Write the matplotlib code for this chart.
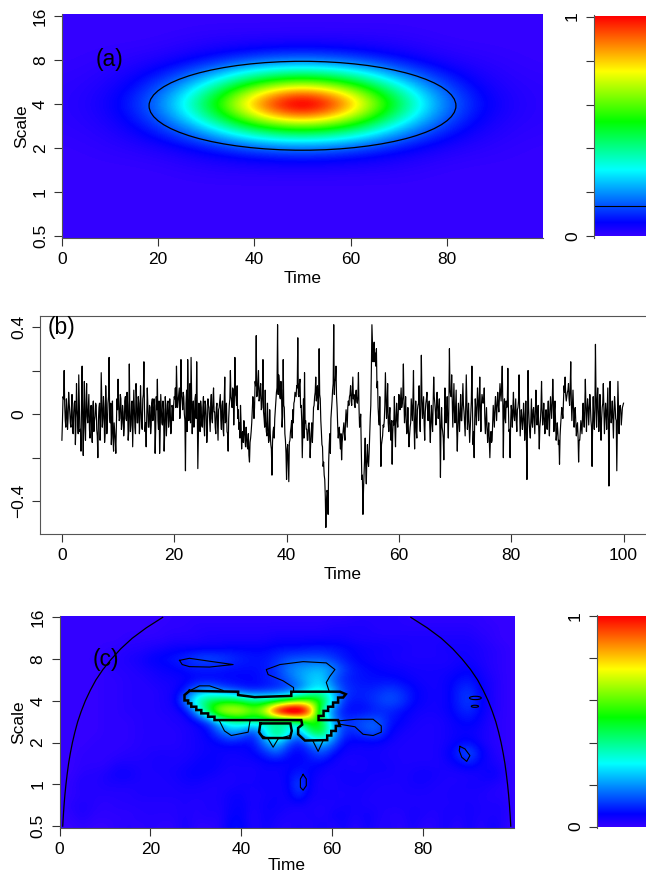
# wavelet power panels (a), (c) and the time series (b)

import numpy as np
import matplotlib.pyplot as plt
from matplotlib.colors import LinearSegmentedColormap
from matplotlib.patches import Ellipse

plt.rcParams['font.family'] = ['Liberation Sans', 'DejaVu Sans']

W, H = 646, 875

# scale axis is in octaves above 0.5
scale_labels = ['0.5', '1', '2', '4', '8', '16']
scale_ticks = [0, 1, 2, 3, 4, 5]

# panel (a): power in percent (clipped at 100), top row is octave 5, step 0.5 octave, time step 10
power_a = [
    [0, 0, 0, 0, 0, 0, 0, 0, 0, 0, 0],
    [0, 0, 0, 1, 1, 1, 1, 1, 0, 0, 0],
    [0, 1, 2, 6, 11, 14, 11, 6, 2, 1, 0],
    [1, 2, 10, 27, 52, 62, 52, 27, 10, 2, 1],
    [1, 4, 17, 50, 95, 130, 95, 50, 17, 4, 1],
    [1, 2, 10, 27, 52, 62, 52, 27, 10, 2, 1],
    [0, 1, 2, 6, 11, 14, 11, 6, 2, 1, 0],
    [0, 0, 0, 1, 1, 1, 1, 1, 0, 0, 0],
    [0, 0, 0, 0, 0, 0, 0, 0, 0, 0, 0],
    [0, 0, 0, 0, 0, 0, 0, 0, 0, 0, 0],
    [0, 0, 0, 0, 0, 0, 0, 0, 0, 0, 0],
]
ellipse_a = (50, 2.96, 63.8, 2.02)
level_a = 0.14

# panel (b): series in hundredths, one row per 5 time units, step 0.2
series_b = [
    -12, 8, 20, -3, 7, -7, 10, 1, -6, 9, -9, 5, -14, 14, -2, 18, -8, -17, 22, -19, 15, -12, 14, -4, 9,
    -11, 4, -13, 6, -3, 5, -7, -20, 3, -12, 19, -6, 8, -13, 13, -9, 5, 26, -4, -14, 6, -17, -8, -18, 7,
    16, -3, 9, -7, 4, -10, 6, -2, 10, -12, 23, -8, 5, -15, 11, -6, 14, -4, 8, -9, 13, -5, 7, 24, -8,
    -15, 12, -6, 4, -9, 5, -3, 7, -18, 8, 16, -7, -18, 9, -4, 6, -17, 8, -10, 5, -6, 7, -9, 4, -3,
    8, 12, 22, 3, 9, -2, 25, 6, 10, 0, -26, 11, 25, -3, 14, 26, -9, 6, -4, 9, 24, -25, 5, -8, 3,
    -6, 8, -10, 4, -13, 7, 3, -8, 9, -4, 12, 1, -9, 5, -12, 3, 9, -7, 6, -10, 17, -3, -8, -17, 4,
    20, 6, 12, -5, 26, 8, 13, 2, -4, 4, -16, -8, -3, -12, -6, -15, -9, -22, -11, -4, 8, -2, 15, 36, 9,
    20, 7, 14, 3, 25, -2, 11, -8, 5, -13, 2, -14, -28, -8, -11, 2, 10, 41, 18, 8, 15, -6, 25, 3, -12,
    -30, -14, -31, -12, -6, -11, -4, 6, 9, 13, 35, 8, 16, 4, -20, 7, 19, -3, -7, -12, -4, -20, -8, -13, 3,
    8, 17, 10, 2, 30, 7, -8, -15, -22, -30, -52, -35, -46, -14, -18, 2, 11, 41, 15, 22, 3, -11, -6, -16, -21,
    -10, -4, -12, 2, -6, 6, 8, 13, 4, 17, 9, 3, 11, 5, 19, -6, 0, -30, -46, -28, -11, -32, -14, -24, -10,
    4, 41, 24, 33, 28, 30, 15, -2, 8, -24, -12, -5, -3, 19, -2, 14, -8, 3, -12, -23, -3, 8, -15, 5, -6,
    9, 2, 12, 5, 23, -4, 8, -9, 3, -15, -6, 7, -3, 20, -16, 6, -11, 4, 13, -8, 27, -2, 8, -12, 5,
    10, -3, 6, -13, 4, -8, 17, 5, -5, 10, -2, 7, -29, 3, -8, -21, 12, -4, 8, -11, 30, 9, 18, -6, 14,
    -4, 11, -17, 5, -8, 9, -3, 14, 1, -10, 18, -7, 5, -13, -2, 22, -14, -20, 7, -5, 12, -3, 17, -8, 9,
    5, 12, -9, 3, -13, -4, -20, -8, -12, 4, -6, 8, -3, 10, 1, 14, 6, 22, -20, 7, -4, 3, 21, -8, -20,
    4, -6, 10, -3, 7, -8, 3, 18, -10, 2, -7, 5, -12, 6, -30, 20, -4, -11, 7, -6, 3, -9, 11, -5, 4,
    -16, -3, 15, -5, 5, -9, 2, -7, 6, -10, 8, -2, 16, -8, 6, -12, -4, -14, -23, -5, 3, -2, 13, 17, 6,
    10, 14, 4, 24, -3, 11, -6, 3, -10, -4, -22, -12, -3, -9, 5, -6, 16, -8, 7, -5, 9, -3, -24, 8, -7,
    32, -6, 12, -8, 9, -12, 3, 14, -9, 5, -7, 12, -33, 15, -4, 6, -11, 8, -2, -26, 15, -9, 4, -5, 3,
    5,
]

# same series at the in-between times (t + 0.1)
series_b_mid = [
    -3, 7, 4, -6, 2, -2, 5, -4, 3, -8, 1, 6, -5, 2, -9, 4, -7, 6, -3, 2, -6, 5, -1, 3, -7,
    2, -6, 3, -8, -1, 4, -10, -3, 5, -5, 7, -2, 3, -9, 4, -4, 8, -1, 5, -7, -11, -4, -12, -6, 2,
    5, -2, 7, -4, 1, -6, 8, -3, 4, -8, 2, -5, 6, -1, 3, -9, 7, -4, 5, -2, 3, -7, 9, 3, -4,
    -2, 4, -6, 3, -5, 7, -1, 4, -7, 2, -3, 6, -8, 3, -5, 2, -9, 4, -2, 6, -3, 1, -5, 3, 4,
    7, 3, 10, 6, 12, 4, 9, 2, 8, -3, 5, -8, 9, 3, -4, 8, 1, -6, 7, -2, 4, -9, -3, 6, -5,
    3, -5, 6, -1, -7, 4, -3, 5, -2, 7, 1, -6, 3, -4, 2, 6, -3, 4, -7, 6, -4, 5, -9, -2, 7,
    8, 3, 11, 5, 9, 4, -2, -7, -11, -4, -9, -13, -7, -15, -10, -16, -19, -13, -8, 2, 6, 3, 13, 8, 15,
    6, 12, 2, 9, 1, -6, -3, -10, -5, -12, -9, -16, -13, -6, -2, 6, 12, 9, 15, 7, 11, -1, 4, -9, -18,
    -16, -22, -13, -8, -3, 2, 5, 10, 8, 12, 9, 14, 3, -3, -6, -11, -4, -7, -12, -5, -9, -13, -4, -6, 4,
    10, 6, 13, 5, 9, -3, -14, -24, -28, -38, -40, -36, -22, -9, -2, 6, 14, 9, 16, 8, -5, -8, -12, -9, -13,
    -7, -9, -3, -2, 3, 4, 9, 6, 10, 7, 4, 9, 6, 8, 3, -4, -16, -28, -35, -20, -25, -20, -22, -18, -2,
    20, 32, 28, 24, 22, 12, 3, -5, -9, -14, -10, -6, 4, 8, 3, -4, -1, -8, -3, -9, -5, -7, -1, -3, 1,
    5, 7, 3, 8, 6, 1, -2, -7, -8, -10, -4, 2, 6, -4, -3, -8, 2, 5, -3, 4, 8, 3, -5, 1, 7,
    2, 3, -6, -2, -4, 4, 8, 1, 4, 3, 2, -7, -5, -6, -11, -8, 3, 1, -3, 3, 11, 8, 6, 4, 1,
    3, -7, -6, -2, 2, -3, 5, 4, -5, 3, 6, -2, -5, -7, 6, 3, -8, -3, 2, 4, 6, 5, 3, 4, 7,
    6, -2, -3, -6, -8, -12, -11, -13, -4, -1, 3, 2, 5, 4, 8, 10, 13, 6, 3, -2, 6, 4, 3, -7, -4,
    1, 3, -1, 2, -3, 2, 6, 2, -4, -2, -3, 0, -6, -10, -4, 3, -8, -2, -4, 2, -3, 1, 2, -1, -7,
    -6, 3, 2, -1, -3, -2, -4, 1, -3, 2, 3, 5, 7, 2, -4, -9, -8, -12, -10, -1, 1, 5, 10, 9, 8,
    11, 7, 12, 6, 4, 2, 1, -3, -6, -10, -12, -8, -6, -1, -2, 3, 5, 1, 3, 2, 4, -6, -4, -2, 2,
    9, 5, 2, -1, -3, -2, 5, 3, -2, 1, 3, -3, -4, 3, -1, -2, 1, 4, -3, -6, 2, 3, 2, -1, 4,
]

# panel (c): power in percent (clipped at 100), top row is octave 5, step 0.25 octave, time step 2.5
power_c = [
    [0,0,0,0,0,0,0,0,0,0, 1,1,1,1,1,1,1,1,1,1, 1,1,1,1,1,1,2,2,2,2, 2,1,1,1,1,1,1,1,0,0,0],
    [0,0,0,0,0,0,0,0,0,1, 1,1,2,2,2,2,2,2,2,2, 2,2,2,2,3,3,3,3,2,2, 2,2,2,2,2,2,2,1,1,0,0],
    [0,0,0,0,0,0,1,1,1,1, 2,2,2,3,3,3,3,3,3,4, 4,4,4,4,4,4,3,3,3,3, 3,3,3,3,3,3,3,2,1,0,0],
    [0,0,0,0,1,1,2,2,3,4, 5,5,5,5,5,6,6,6,6,7, 7,7,8,8,8,7,6,5,5,4, 4,3,3,3,4,4,4,3,2,1,0],
    [0,0,0,1,1,2,3,4,6,7, 8,10,13,14,13,11,9,8,8,10, 13,14,14,14,11,8,6,5,4,4, 3,3,3,3,3,4,4,3,2,1,0],
    [0,0,0,0,1,2,2,3,4,5, 6,7,8,8,8,7,7,7,8,11, 18,21,23,24,20,12,8,7,6,5, 5,4,4,4,4,5,6,4,2,1,0],
    [0,0,0,0,1,1,2,2,3,4, 4,5,6,6,6,6,6,6,8,10, 14,20,25,27,14,9,8,7,7,7, 6,5,4,4,5,7,8,5,3,1,0],
    [0,0,0,0,1,1,2,2,2,3, 4,8,17,21,16,12,9,7,8,9, 11,15,25,30,22,12,9,9,10,12, 10,7,5,4,5,9,11,6,3,1,0],
    [0,0,0,0,1,1,2,2,2,3, 4,18,38,45,48,50,45,40,40,42, 50,58,60,55,30,10,8,9,12,14, 12,7,5,4,5,9,12,7,3,1,0],
    [0,0,0,0,1,1,2,2,2,3, 3,5,22,48,72,76,76,65,78,115, 130,130,100,35,14,7,6,7,9,9, 7,5,4,4,5,8,10,6,3,1,0],
    [0,0,0,0,1,1,1,2,2,2, 3,3,5,10,25,35,38,36,35,30, 30,38,55,50,22,10,13,15,15,8, 6,4,3,3,4,6,7,5,2,1,0],
    [0,0,0,0,1,1,1,2,2,2, 2,3,4,6,14,22,18,10,28,48, 36,18,45,52,25,10,10,14,15,6, 4,3,3,3,4,5,5,4,2,1,0],
    [0,0,0,1,1,1,1,2,2,2, 2,3,4,5,6,8,6,7,18,28, 14,8,16,25,16,6,5,5,5,4, 3,3,3,3,4,6,7,4,2,1,0],
    [0,0,1,1,1,1,2,2,3,3, 3,3,4,5,5,4,5,6,9,15, 8,5,9,14,7,4,4,4,4,3, 3,3,3,3,5,10,15,7,3,1,0],
    [0,0,1,1,1,3,3,3,3,4, 3,4,5,6,5,4,4,4,5,5, 5,6,7,6,4,3,3,4,4,4, 3,3,3,3,4,6,9,5,4,2,0],
    [0,0,2,2,3,5,5,3,3,3, 4,5,6,5,4,3,4,3,5,4, 6,9,6,4,3,5,4,4,4,4, 3,4,5,4,3,3,3,4,6,3,0],
    [0,1,3,2,3,3,3,3,3,3, 3,4,4,3,3,3,4,4,5,4, 5,14,5,3,3,4,4,4,3,3, 3,4,4,3,3,3,4,4,3,2,0],
    [0,1,2,2,2,2,2,3,3,3, 3,3,3,3,3,5,5,3,4,5, 4,11,4,4,4,3,4,3,3,3, 3,3,3,3,3,4,3,3,2,2,0],
    [0,2,3,2,1,2,2,2,2,2, 2,3,2,3,3,5,6,3,5,5, 4,4,3,3,3,4,4,3,3,3, 3,3,3,3,3,3,4,3,3,3,0],
    [0,1,3,1,1,1,1,2,2,2, 2,3,2,3,2,6,6,2,5,4, 3,2,4,2,5,5,3,5,3,2, 2,4,3,2,4,3,4,3,3,3,0],
    [0,0,1,0,0,1,2,1,2,1, 1,4,1,1,2,7,7,2,5,3, 2,4,2,5,2,5,1,5,2,3, 1,4,1,2,4,1,5,1,5,2,0],
]

# cone of influence, time at each quarter octave
coi_t = [.71, .84, 1.0, 1.19, 1.42, 1.69, 2.0, 2.39, 2.84, 3.38, 4.0, 4.78, 5.68,
         6.76, 8.0, 9.55, 11.4, 13.5, 16.0, 19.1, 22.7]
coi_o = [0, .25, .5, .75, 1, 1.25, 1.5, 1.75, 2, 2.25, 2.5, 2.75, 3,
         3.25, 3.5, 3.75, 4, 4.25, 4.5, 4.75, 5]

# thick significance contours, (time, octave)
thick_c = [
    [(28.6, 3.24), (39.3, 3.22), (39.3, 3.14), (40.75, 3.12), (42.95, 3.09), (51.0, 3.12), (51.0, 3.22),
     (61.7, 3.22), (63.0, 3.16), (62.4, 3.08), (61.3, 3.08), (61.3, 2.96), (60.2, 2.96), (60.2, 2.86),
     (59.1, 2.86), (59.1, 2.76), (58.1, 2.76), (58.1, 2.64), (57.0, 2.64), (57.0, 2.54), (61.3, 2.54),
     (61.7, 2.40), (60.8, 2.40), (60.8, 2.28), (59.8, 2.28), (59.8, 2.17), (58.9, 2.17), (58.9, 2.06),
     (54.0, 2.05), (52.5, 2.20), (52.5, 2.35), (53.4, 2.43), (53.2, 2.54), (34.1, 2.54), (34.1, 2.62),
     (32.7, 2.62), (32.7, 2.70), (31.2, 2.70), (31.2, 2.78), (30.1, 2.78), (30.1, 2.86), (29.0, 2.86),
     (29.0, 2.94), (28.3, 2.94), (28.3, 3.01), (27.5, 3.01), (27.5, 3.14), (28.6, 3.24)],
    [(44.2, 2.46), (50.8, 2.46), (51.1, 2.28), (50.7, 2.11), (44.8, 2.11), (43.9, 2.25), (44.2, 2.46)],
]

# thin contours, (time, octave)
thin_c = [
    [(26.4, 3.97), (28.6, 4.02), (33.0, 3.95), (38.2, 3.87), (33.0, 3.81), (28.6, 3.82), (27.0, 3.87), (26.4, 3.97)],
    [(51.5, 3.24), (51.5, 3.32), (49.2, 3.48), (45.9, 3.63), (45.5, 3.75), (48.5, 3.87), (53.6, 3.94),
     (58.7, 3.91), (60.6, 3.75), (59.5, 3.59), (58.7, 3.44), (59.3, 3.24)],
    [(28.6, 3.24), (30.8, 3.36), (33.0, 3.36), (36.0, 3.25)],
    [(35.2, 2.52), (36.3, 2.28), (37.8, 2.17), (41.5, 2.25), (41.9, 2.51)],
    [(61.3, 2.52), (65.3, 2.56), (69.0, 2.56), (70.8, 2.40), (70.8, 2.25), (69.0, 2.17), (66.8, 2.20),
     (65.0, 2.38), (61.7, 2.44)],
    [(55.8, 2.03), (56.9, 1.79), (58.0, 2.05)],
    [(44.0, 2.20), (45.9, 2.09), (47.0, 1.89), (48.1, 2.09), (50.7, 2.17)],
    [(53.6, 1.24), (54.3, 1.13), (54.3, 0.97), (53.6, 0.86), (53.0, 0.93), (53.0, 1.13), (53.6, 1.24)],
    [(88.1, 1.91), (89.2, 1.85), (90.3, 1.69), (89.6, 1.55), (88.5, 1.65), (87.95, 1.81), (88.1, 1.91)],
]
small_ellipses_c = [(91.5, 3.07, 2.6, 0.08), (91.4, 2.87, 1.6, 0.05)]

cmap = LinearSegmentedColormap.from_list('wave', [
    (0, '#3300ff'), (0.06, '#0000ff'), (0.30, '#00ffff'),
    (0.52, '#00ff00'), (0.75, '#ffff00'), (1, '#ff0000')])


def px_axes(left, top, right, bottom):
    return fig.add_axes([left/W, 1 - bottom/H, (right - left)/W, (bottom - top)/H])


def style(ax, edge='#555555'):
    for s in ax.spines.values():
        s.set_color(edge)
        s.set_linewidth(0.8)
    ax.tick_params(length=6, width=0.8, color='#333333', labelsize=12.5, pad=4)
    ax.spines['top'].set_visible(False)
    ax.spines['right'].set_visible(False)


def rotate_y(ax):
    for lab in ax.get_yticklabels():
        lab.set_rotation(90)
        lab.set_va('center')


def heat_panel(ax, power, dt, do, t_ticks, xpad=3):
    z = np.array(power)[::-1]/100
    n_o, n_t = z.shape
    ax.imshow(z, origin='lower', cmap=cmap, vmin=0, vmax=1, aspect='auto', interpolation='bicubic',
              extent=[-dt/2, dt*(n_t - 1) + dt/2, -do/2, do*(n_o - 1) + do/2])
    ax.set_xlim(0, 100)
    ax.set_ylim(-0.045, 5.045)
    ax.set_xticks(t_ticks)
    ax.set_yticks(scale_ticks, scale_labels)
    style(ax)
    rotate_y(ax)
    ax.set_xlabel('Time', fontsize=12.5, labelpad=xpad)
    ax.set_ylabel('Scale', fontsize=12.5, labelpad=3)


def colorbar_panel(ax, line=None):
    grad = np.linspace(0, 1, 256).reshape(-1, 1)
    ax.imshow(grad, origin='lower', cmap=cmap, vmin=0, vmax=1, aspect='auto', extent=[0, 1, 0, 1])
    ax.set_xlim(0, 1)
    ax.set_ylim(-0.007, 1.007)
    ax.set_xticks([])
    ax.set_yticks([0, .2, .4, .6, .8, 1], ['0', '', '', '', '', '1'])
    style(ax)
    ax.spines['bottom'].set_visible(False)
    rotate_y(ax)
    if line is not None:
        ax.axhline(line, color='k', lw=0.8)


fig = plt.figure(figsize=(W/100, H/100), dpi=100)

# (a)
ax1 = px_axes(62, 14, 543, 238)
heat_panel(ax1, power_a, 10, 0.5, [0, 20, 40, 60, 80])
ax1.add_patch(Ellipse(ellipse_a[:2], ellipse_a[2], ellipse_a[3], fill=False, ec='k', lw=0.9))
ax1.text(7, 4, '(a)', fontsize=16.5, va='center')
colorbar_panel(px_axes(594, 15, 646, 238), level_a)

# (b)
ax2 = px_axes(40, 316, 646, 534)
n_b = len(series_b)
time_b = np.arange(2*n_b - 1)*0.1
values_b = np.zeros(2*n_b - 1)
values_b[::2] = series_b
values_b[1::2] = series_b_mid
ax2.plot(time_b, values_b/100, color='k', lw=0.85)
ax2.set_xlim(-3.9, 104)
ax2.set_ylim(-0.55, 0.45)
ax2.set_xticks([0, 20, 40, 60, 80, 100])
ax2.set_yticks([-.4, -.2, 0, .2, .4], ['\u22120.4', '', '0', '', '0.4'])
style(ax2)
ax2.spines['top'].set_visible(True)
rotate_y(ax2)
ax2.set_xlabel('Time', fontsize=12.5, labelpad=3)
ax2.text(-2.6, 0.395, '(b)', fontsize=16.5, va='center')

# (c)
ax3 = px_axes(59.5, 615.5, 514, 828)
heat_panel(ax3, power_c, 2.5, 0.25, [0, 20, 40, 60, 80], xpad=1)
ax3.plot(coi_t, coi_o, color='k', lw=0.9)
ax3.plot(100 - np.array(coi_t), coi_o, color='k', lw=0.9)
for pts in thick_c:
    ax3.plot(*zip(*pts), color='k', lw=1.8, solid_joinstyle='miter')
for pts in thin_c:
    ax3.plot(*zip(*pts), color='k', lw=0.8)
for t0, o0, wd, ht in small_ellipses_c:
    ax3.add_patch(Ellipse((t0, o0), wd, ht, fill=False, ec='k', lw=0.8))
ax3.text(7.2, 4.0, '(c)', fontsize=16.5, va='center')
colorbar_panel(px_axes(597, 615, 646, 828))

fig.savefig('out.png', dpi=100)
